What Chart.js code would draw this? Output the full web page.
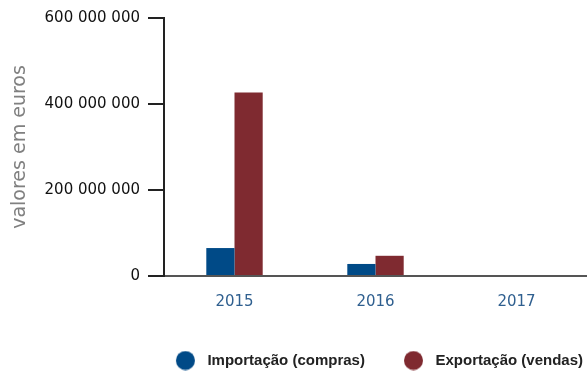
<!DOCTYPE html>
<html>
<head>
<meta charset="utf-8">
<script src="https://cdn.jsdelivr.net/npm/chart.js@4/dist/chart.umd.min.js"></script>
<style>
  html, body { margin: 0; padding: 0; background: #ffffff; }
  #wrap { width: 587px; height: 371px; }
</style>
</head>
<body>
<div id="wrap"><canvas id="c" width="587" height="371"></canvas></div>
<script>
// Anos
const years = ['2015', '2016', '2017'];
// Valores em euros
const importacao = [65000000, 28000000, 0];
const exportacao = [427000000, 47000000, 0];
// Eixo vertical
const yTicks = [0, 200000000, 400000000, 600000000];

const COR_IMP = '#004a87';
const COR_EXP = '#7f2a30';

const fmt = v => String(v).replace(/\B(?=(\d{3})+(?!\d))/g, ' ');

// Legend marker: a filled circle with blank space before (item spacing) and after (text gap)
const MARK_LEAD = 35, MARK_D = 19, MARK_TAIL = 5;
function marker(color) {
  const c = document.createElement('canvas');
  c.width = MARK_LEAD + MARK_D + MARK_TAIL;
  c.height = MARK_D + 1;
  const g = c.getContext('2d');
  g.fillStyle = color;
  g.beginPath();
  g.arc(MARK_LEAD + MARK_D / 2, (MARK_D + 1) / 2, MARK_D / 2, 0, Math.PI * 2);
  g.fill();
  return c;
}

new Chart(document.getElementById('c'), {
  type: 'bar',
  data: {
    labels: years,
    datasets: [
      { label: 'Importação (compras)', data: importacao, backgroundColor: COR_IMP, borderWidth: 0,
        pointStyle: marker(COR_IMP), categoryPercentage: 0.4, barPercentage: 1.0 },
      { label: 'Exportação (vendas)', data: exportacao, backgroundColor: COR_EXP, borderWidth: 0,
        pointStyle: marker(COR_EXP), categoryPercentage: 0.4, barPercentage: 1.0 }
    ]
  },
  options: {
    responsive: false,
    animation: false,
    layout: { padding: { top: 18, right: 0, left: 0, bottom: -7 } },
    plugins: {
      tooltip: { enabled: false },
      legend: {
        position: 'bottom',
        align: 'end',
        labels: {
          usePointStyle: true,
          pointStyleWidth: MARK_LEAD + MARK_D + MARK_TAIL,
          boxHeight: 15,
          padding: 4,
          color: '#222222',
          font: { family: '"Liberation Sans", Arial, sans-serif', size: 15, weight: 'bold' }
        }
      }
    },
    scales: {
      x: {
        grid: { display: false },
        border: { display: true, color: '#555555', width: 2 },
        ticks: {
          color: '#2f5f8f',
          padding: 9,
          font: { family: '"DejaVu Sans", sans-serif', size: 15 }
        },
        afterFit: s => { s.height = 73; }
      },
      y: {
        min: 0,
        max: 600000000,
        afterBuildTicks: s => { s.ticks = yTicks.map(v => ({ value: v })); },
        grid: { drawOnChartArea: false, drawTicks: true, tickLength: 16, color: '#222222', lineWidth: 2 },
        border: { display: true, color: '#222222', width: 2 },
        ticks: {
          color: '#111111',
          padding: 8,
          font: { family: '"DejaVu Sans", sans-serif', size: 15 },
          callback: v => fmt(v)
        },
        title: {
          display: true,
          text: 'valores em euros',
          color: '#808080',
          padding: { top: 9, bottom: 0 },
          font: { family: '"DejaVu Sans", sans-serif', size: 19 }
        },
        afterFit: s => { s.width = 164; }
      }
    }
  }
});
</script>
</body>
</html>
